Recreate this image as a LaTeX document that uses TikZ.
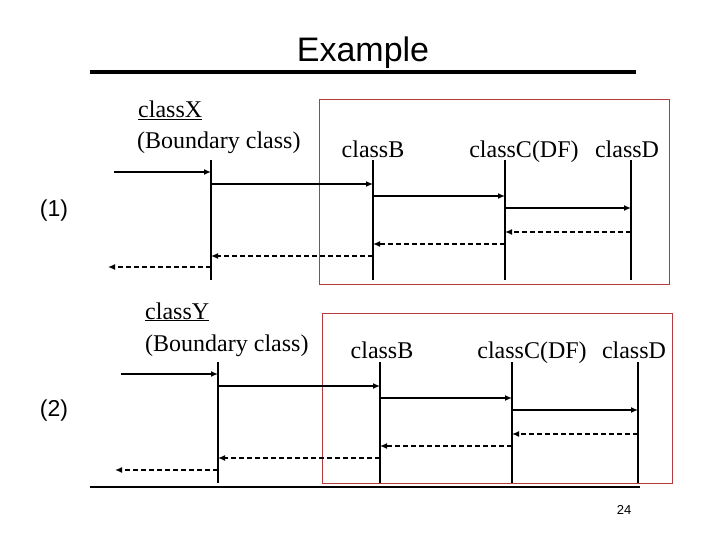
\documentclass[tikz,border=0pt]{standalone}
\usepackage{fontspec}
\setmainfont{Liberation Serif}
\newfontfamily\titlefont{Liberation Sans}
\usetikzlibrary{arrows.meta}
\definecolor{boxred}{RGB}{180,60,62}
\tikzset{
  lifeline/.style={line width=2pt},
  msg/.style={line width=2pt,-{Latex[length=7pt,width=6pt]}},
  ret/.style={line width=2pt,dash pattern=on 5pt off 3pt,-{Latex[length=7pt,width=6pt]}},
  grp/.style={draw=boxred,line width=1pt},
  cls/.style={font=\fontsize{24}{26}\selectfont,anchor=base,inner sep=0pt},
  num/.style={font=\titlefont\fontsize{23}{26}\selectfont,inner sep=0pt}
}
\begin{document}
\begin{tikzpicture}[x=1pt,y=-1pt]
\useasboundingbox[fill=white] (0,0) rectangle (720,540);
% title
\node[font=\titlefont\fontsize{34}{38}\selectfont,anchor=base,inner sep=0pt] (title) at (363,62) {Example};
\coordinate (tl) at (90,72); \coordinate (tr) at (636,72);
\draw[line width=4pt] (tl) -- (tr);
% ---------- section (1) ----------
\node[num] (n1) at (54,211) {(1)};
\node[grp,minimum width=350pt,minimum height=185pt,anchor=north west] (box1) at (319,99) {};
\node[cls,anchor=base west] (x1name) at (138,118) {\underline{classX}};
\node[cls,anchor=base west] (x1sub) at (137,149) {(Boundary class)};
\node[cls] (b1name) at (373,158) {classB};
\node[cls] (c1name) at (524,158) {classC(DF)};
\node[cls] (d1name) at (627,158) {classD};
\foreach \n/\x in {X1/211,B1/373,C1/505,D1/631}{
  \foreach \y in {160,172,184,196,208,232,244,256,267,280}{
    \coordinate (\n-\y) at (\x,\y);
  }
}
\coordinate (in1) at (114,172);
\coordinate (out1) at (108,267);
\foreach \n in {X1,B1,C1,D1}{ \draw[lifeline] (\n-160) -- (\n-280); }
\draw[msg] (in1) -- (X1-172);
\draw[msg] (X1-184) -- (B1-184);
\draw[msg] (B1-196) -- (C1-196);
\draw[msg] (C1-208) -- (D1-208);
\draw[ret] (D1-232) -- (C1-232);
\draw[ret] (C1-244) -- (B1-244);
\draw[ret] (B1-256) -- (X1-256);
\draw[ret] (X1-267) -- (out1);
% ---------- section (2) ----------
\node[num] (n2) at (54,411) {(2)};
\node[grp,minimum width=350pt,minimum height=170pt,anchor=north west] (box2) at (322,313) {};
\node[cls,anchor=base west] (y2name) at (145,319) {\underline{classY}};
\node[cls,anchor=base west] (y2sub) at (145,351) {(Boundary class)};
\node[cls] (b2name) at (382,358) {classB};
\node[cls] (c2name) at (532,358) {classC(DF)};
\node[cls] (d2name) at (634,358) {classD};
\foreach \n/\x in {Y2/218,B2/380,C2/512,D2/638}{
  \foreach \y in {362,374,386,398,410,434,446,458,470,483}{
    \coordinate (\n-\y) at (\x,\y);
  }
}
\coordinate (in2) at (121,374);
\coordinate (out2) at (115,470);
\foreach \n in {Y2,B2,C2,D2}{ \draw[lifeline] (\n-362) -- (\n-483); }
\draw[msg] (in2) -- (Y2-374);
\draw[msg] (Y2-386) -- (B2-386);
\draw[msg] (B2-398) -- (C2-398);
\draw[msg] (C2-410) -- (D2-410);
\draw[ret] (D2-434) -- (C2-434);
\draw[ret] (C2-446) -- (B2-446);
\draw[ret] (B2-458) -- (Y2-458);
\draw[ret] (Y2-470) -- (out2);
% footer
\coordinate (fl) at (90,487); \coordinate (fr) at (640,487);
\draw[line width=1.5pt] (fl) -- (fr);
\node[font=\titlefont\fontsize{13}{15}\selectfont,anchor=base,inner sep=0pt] (page) at (624,514) {24};
\end{tikzpicture}
\end{document}
